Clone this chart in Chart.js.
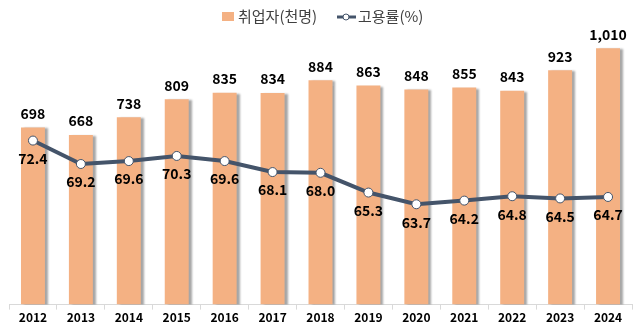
<!DOCTYPE html>
<html>
<head>
<meta charset="utf-8">
<script src="https://cdn.jsdelivr.net/npm/chart.js"></script>
<style>
  html, body { margin: 0; padding: 0; background: #fff; }
  #wrap { width: 640px; height: 326px; }
</style>
</head>
<body>
<div id="wrap"><canvas id="myChart"></canvas></div>
<script>
// data
var years = ['2012','2013','2014','2015','2016','2017','2018','2019','2020','2021','2022','2023','2024'];
var employed = [698, 668, 738, 809, 835, 834, 884, 863, 848, 855, 843, 923, 1010];
var employRate = [72.4, 69.2, 69.6, 70.3, 69.6, 68.1, 68.0, 65.3, 63.7, 64.2, 64.8, 64.5, 64.7];

var FONT = "'Noto Sans CJK KR', 'Liberation Sans', sans-serif";
var BAR_COLOR = '#F4B183';
var LINE_COLOR = '#44546A';

// value labels: above bars, below line points
var labelPlugin = {
  id: 'labels',
  afterDatasetsDraw: function(chart) {
    var ctx = chart.ctx;
    ctx.save();
    ctx.fillStyle = '#000';
    ctx.font = 'bold 14px ' + FONT;
    ctx.textAlign = 'center';
    ctx.textBaseline = 'middle';
    chart.getDatasetMeta(1).data.forEach(function(el, i) {
      ctx.fillText(employRate[i].toFixed(1), el.x, el.y + 18);
    });
    chart.getDatasetMeta(0).data.forEach(function(el, i) {
      ctx.fillText(employed[i].toLocaleString('en-US'), el.x, el.y - 14);
    });
    ctx.restore();
  }
};

// little grey shadow on the right of each bar
var shadowPlugin = {
  id: 'barShadow',
  beforeDatasetDraw: function(chart, args) {
    if (args.index !== 0) return;
    var ctx = chart.ctx;
    ctx.save();
    ctx.shadowColor = 'rgba(0,0,0,0.35)';
    ctx.shadowOffsetX = 3;
    ctx.shadowOffsetY = 1;
    ctx.shadowBlur = 2;
  },
  afterDatasetDraw: function(chart, args) {
    if (args.index !== 0) return;
    chart.ctx.restore();
  }
};

// legend drawn by hand: box for bars, line+dot for the rate
var legendPlugin = {
  id: 'customLegend',
  afterDraw: function(chart) {
    var ctx = chart.ctx;
    var cy = 16;
    ctx.save();
    ctx.fillStyle = BAR_COLOR;
    ctx.fillRect(222, cy - 4, 12, 9);
    ctx.font = '15px ' + FONT;
    ctx.fillStyle = '#404040';
    ctx.textBaseline = 'middle';
    ctx.textAlign = 'left';
    ctx.fillText(chart.data.datasets[0].label, 238, cy);
    ctx.strokeStyle = LINE_COLOR;
    ctx.lineWidth = 3;
    ctx.beginPath();
    ctx.moveTo(337, cy + 1);
    ctx.lineTo(356, cy + 1);
    ctx.stroke();
    ctx.beginPath();
    ctx.arc(346, cy + 1, 3, 0, Math.PI * 2);
    ctx.fillStyle = '#fff';
    ctx.fill();
    ctx.lineWidth = 1;
    ctx.stroke();
    ctx.fillStyle = '#404040';
    ctx.fillText(chart.data.datasets[1].label, 358, cy);
    ctx.restore();
  }
};

var ctx = document.getElementById('myChart').getContext('2d');
var myChart = new Chart(ctx, {
  data: {
    labels: years,
    datasets: [{
      type: 'bar',
      label: '취업자(천명)',
      data: employed,
      backgroundColor: BAR_COLOR,
      barPercentage: 0.5,
      categoryPercentage: 1.0,
      yAxisID: 'y',
      order: 2
    }, {
      type: 'line',
      label: '고용률(%)',
      data: employRate,
      borderColor: LINE_COLOR,
      borderWidth: 4,
      pointBackgroundColor: '#fff',
      pointBorderColor: LINE_COLOR,
      pointBorderWidth: 1,
      pointRadius: 4.5,
      tension: 0,
      yAxisID: 'y2',
      order: 1
    }]
  },
  options: {
    responsive: true,
    maintainAspectRatio: false,
    animation: false,
    layout: { padding: { left: 9, right: 8, top: 30, bottom: 0 } },
    plugins: {
      legend: { display: false },
      tooltip: { enabled: false }
    },
    scales: {
      x: {
        offset: true,
        grid: { display: true, drawOnChartArea: false, offset: true, tickLength: 5, color: '#d9d9d9' },
        border: { display: true, color: '#d9d9d9' },
        ticks: { font: { family: FONT, size: 12, weight: 'bold' }, color: '#000', padding: 1 }
      },
      y: {
        display: false,
        min: 0,
        max: 1082
      },
      y2: {
        display: false,
        min: 50,
        max: 87.5
      }
    }
  },
  plugins: [labelPlugin, shadowPlugin, legendPlugin]
});
</script>
</body>
</html>
